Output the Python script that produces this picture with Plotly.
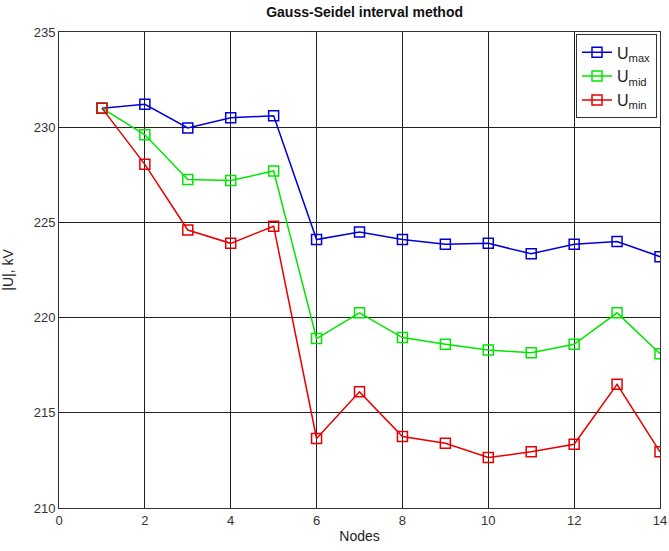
import plotly.graph_objects as go

nodes = list(range(1, 15))
u_max = [231.0, 231.2, 229.96, 230.5, 230.6, 224.1, 224.5, 224.1, 223.85, 223.9, 223.35, 223.85, 224.0, 223.2]
u_mid = [231.0, 229.6, 227.25, 227.2, 227.7, 218.9, 220.25, 218.95, 218.6, 218.3, 218.15, 218.6, 220.25, 218.1]
u_min = [231.0, 228.05, 224.6, 223.9, 224.8, 213.65, 216.1, 213.75, 213.4, 212.65, 212.95, 213.35, 216.5, 212.95]

series = [
    ("U<sub>max</sub>", u_max, "rgb(0,0,215)"),
    ("U<sub>mid</sub>", u_mid, "rgb(0,230,0)"),
    ("U<sub>min</sub>", u_min, "rgb(230,0,0)"),
]

fig = go.Figure()
for name, vals, col in series:
    fig.add_trace(go.Scatter(
        x=nodes, y=vals, name=name, mode="lines+markers",
        line=dict(color=col, width=1.5),
        marker=dict(symbol="square-open", size=10, color=col, line=dict(width=1.5)),
    ))

axis_common = dict(
    showgrid=True, gridcolor="#222222", gridwidth=1,
    showline=True, linecolor="#333333", linewidth=1, mirror=True,
    zeroline=False, ticks="", tickfont=dict(size=13, color="#333333"),
    ticklabeloverflow="allow",
)
fig.update_layout(
    width=669, height=551,
    margin=dict(l=59, r=2, t=32, b=43),
    paper_bgcolor="white", plot_bgcolor="white",
    font=dict(family="Liberation Sans, Arial, sans-serif", color="#222222"),
    title=dict(text="<b>Gauss-Seidel interval method</b>", x=0.545, xanchor="center", y=0.978, yanchor="middle",
               font=dict(size=14, color="#111111")),
    xaxis=dict(range=[0, 14], dtick=2, title=dict(text="Nodes", font=dict(size=14), standoff=4), **axis_common),
    yaxis=dict(range=[210, 235], dtick=5, title=dict(text="|U|, kV", font=dict(size=14), standoff=16), **axis_common),
    legend=dict(x=0.995, y=0.995, xanchor="right", yanchor="top", bgcolor="white",
                bordercolor="#333333", borderwidth=1, font=dict(size=16, color="#222222"),
                itemwidth=30, tracegroupgap=2),
    showlegend=True,
)
fig.write_html("out.html", config={"displayModeBar": False},
               post_script="document.body.style.margin='0';document.body.style.overflow='hidden';")
